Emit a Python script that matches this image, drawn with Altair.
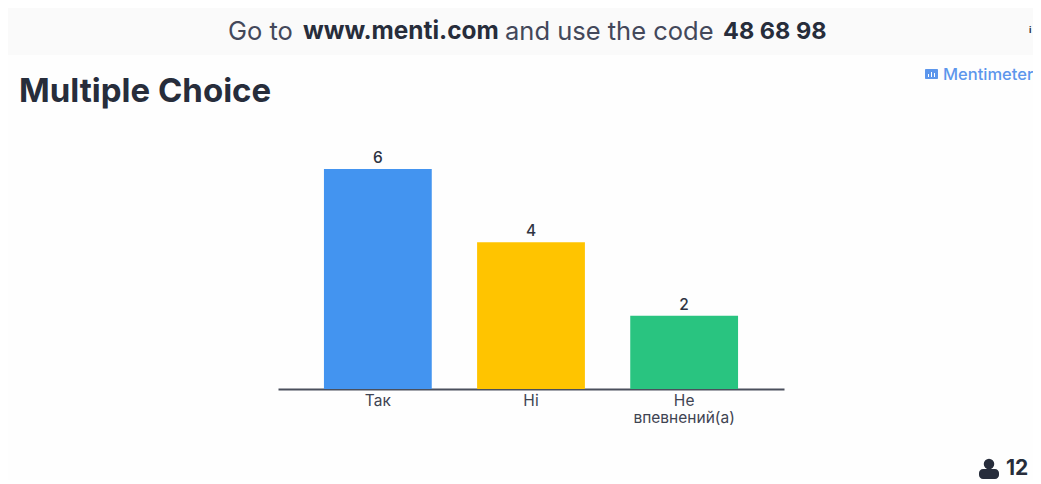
import altair as alt
import pandas as pd

categories = ["Так", "Ні", "Не впевнений(а)"]
values = [6, 4, 2]
colors = ["#4394F0", "#FFC400", "#29C480"]

header_parts = ["Go to", "www.menti.com", "and use the code", "48 68 98"]
title_text = "Multiple Choice"
brand_text = "Mentimeter"
count_text = "12"
font = "Inter"
ink = "#272D3B"

df = pd.DataFrame({"cat": categories, "val": values})
one = alt.Data(values=[{"k": 1}])


def label(text, x, y, size, color=ink, weight=400, align="left"):
    return alt.Chart(one).mark_text(
        text=text, font=font, fontSize=size, fontWeight=weight, color=color,
        align=align, baseline="middle", clip=False
    ).encode(x=alt.value(x), y=alt.value(y))


def box(x, x2, y, y2, color, radius=0):
    return alt.Chart(one).mark_rect(color=color, cornerRadius=radius, clip=False).encode(
        x=alt.value(x), x2=alt.value(x2), y=alt.value(y), y2=alt.value(y2)
    )


x_enc = alt.X(
    "cat:N",
    sort=categories,
    scale=alt.Scale(domain=categories, range=[270, 776], paddingInner=0.296, paddingOuter=0.30),
    axis=alt.Axis(
        title=None, orient="bottom", ticks=False, grid=False, labelAngle=0,
        domainColor="#4A4F5C", domainWidth=2,
        labelFont=font, labelFontSize=15.5, labelColor="#3F4452", labelPadding=4,
        labelLineHeight=17, labelExpr="split(datum.label, ' ')", labelLimit=200,
    ),
)
y_enc = alt.Y("val:Q", scale=alt.Scale(domain=[0, 6], range=[381, 161]), axis=None)

bars = alt.Chart(df).mark_bar().encode(
    x=x_enc, y=y_enc,
    color=alt.Color("cat:N", scale=alt.Scale(domain=categories, range=colors), legend=None),
)
vals = alt.Chart(df).mark_text(
    font=font, fontSize=15.5, fontWeight=500, color="#2F3442", baseline="bottom", dy=-3
).encode(x=x_enc, y=y_enc, text="val:Q")

layers = [
    box(0, 1025, 0, 47, "#FAFAFA"),
    label(header_parts[0], 220, 24, 25.5, "#43485A", 400),
    label(header_parts[1], 295, 24, 24.4, ink, 700),
    label(header_parts[2], 497, 24, 25.5, "#43485A", 400),
    label(header_parts[3], 715, 24, 23.5, ink, 700),
    label("i", 1021, 22, 9, ink, 700),
    label(title_text, 11, 83.5, 33, ink, 700),
    box(917, 930, 61, 71, "#5C96EC", 1),
    box(920, 921, 66, 69, "#FFFFFF"),
    box(923, 924, 64, 69, "#FFFFFF"),
    box(926, 927, 65, 69, "#FFFFFF"),
    label(brand_text, 935, 67, 16.5, "#5C96EC", 500),
    bars,
    vals,
    alt.Chart(one).mark_point(filled=True, shape="circle", size=110, color=ink, opacity=1, clip=False)
    .encode(x=alt.value(981), y=alt.value(456)),
    box(971, 991, 461, 471, ink, 4),
    label(count_text, 998, 461, 21, ink, 700),
]

chart = alt.layer(*layers).properties(
    width=1025, height=381,
    autosize=alt.AutoSizeParams(type="none"),
    padding={"left": 0, "top": 0, "right": 0, "bottom": 91},
    background="#FEFEFE",
).configure_view(stroke=None)

chart.save("out.html", embed_options={"renderer": "svg", "actions": False})
